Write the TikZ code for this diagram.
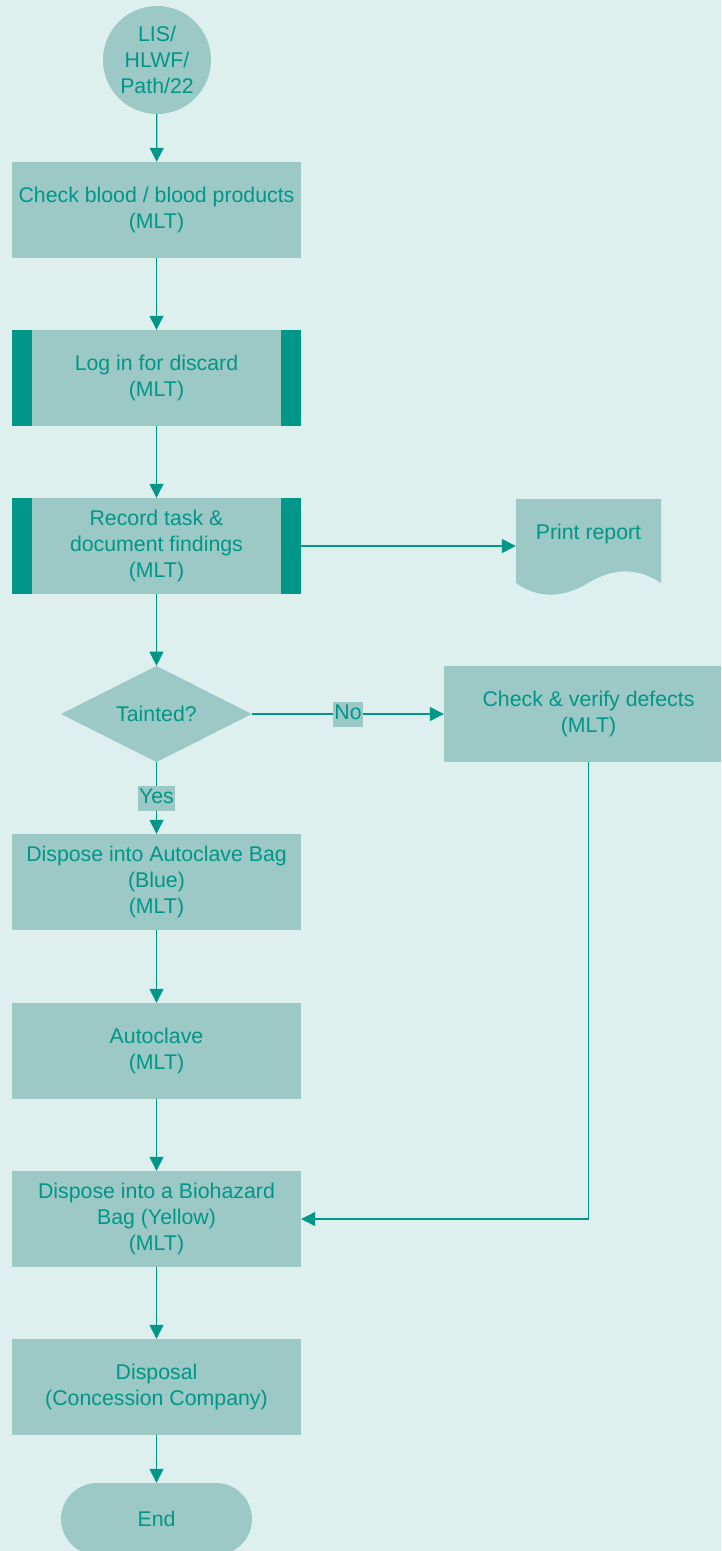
\documentclass[tikz,border=0pt]{standalone}
\usepackage{fontspec}
\setmainfont{Liberation Sans}
\usetikzlibrary{arrows.meta,shapes.geometric,shapes.misc}
\definecolor{bgc}{RGB}{221,240,237}
\definecolor{nodefill}{RGB}{156,200,198}
\definecolor{tealc}{RGB}{0,150,136}
\tikzset{
  base/.style={fill=nodefill, draw=none, text=tealc, align=center, font=\fontsize{21.3pt}{26pt}\selectfont, inner sep=0pt},
  procbox/.style={base, rectangle, minimum width=289pt, minimum height=96pt},
  conn/.style={draw=tealc, line width=1.2pt, -{Triangle[length=14pt,width=14pt]}},
  lbl/.style={fill=nodefill, text=tealc, font=\fontsize{21.3pt}{26pt}\selectfont, inner xsep=1pt, inner ysep=3pt, text height=15pt, text depth=4pt},
  bar/.style={fill=tealc}
}
\begin{document}
\begin{tikzpicture}[x=1pt,y=-1pt]
\useasboundingbox (0,0) rectangle (721,1551);
\fill[bgc] (0,0) rectangle (721,1551);
\clip (0,0) rectangle (721,1551);

\node[base, circle, minimum size=108pt] (start) at (157,60) {LIS/\\HLWF/\\Path/22};
\node[procbox] (b1) at (156.5,210) {Check blood / blood products\\(MLT)};
\node[procbox] (b2) at (156.5,378) {Log in for discard\\(MLT)};
\fill[bar] (b2.north west) rectangle ([xshift=20pt]b2.south west);
\fill[bar] (b2.north east) rectangle ([xshift=-20pt]b2.south east);
\node[procbox] (b3) at (156.5,546) {Record task \&\\document findings\\(MLT)};
\fill[bar] (b3.north west) rectangle ([xshift=20pt]b3.south west);
\fill[bar] (b3.north east) rectangle ([xshift=-20pt]b3.south east);

% print report (document shape)
\fill[nodefill] (516,499) -- (661,499) -- (661,583)
  .. controls (636,566) and (611,569) .. (588,583)
  .. controls (565,597) and (540,600) .. (516,583) -- cycle;
\node[inner sep=0pt, minimum width=145pt, minimum height=96pt] (pr) at (588.5,546) {};
\node[text=tealc, font=\fontsize{21.3pt}{26pt}\selectfont] (prt) at (588.5,534) {Print report};

\node[base, diamond, minimum width=191pt, minimum height=96pt] (d) at (156.5,714) {Tainted?};
\node[procbox] (chk) at (588.5,714) {Check \& verify defects\\(MLT)};
\node[procbox] (b4) at (156.5,882) {Dispose into Autoclave Bag\\(Blue)\\(MLT)};
\node[procbox] (b5) at (156.5,1051) {Autoclave\\(MLT)};
\node[procbox] (b6) at (156.5,1219) {Dispose into a Biohazard\\Bag (Yellow)\\(MLT)};
\node[procbox] (b7) at (156.5,1387) {Disposal\\(Concession Company)};
\node[base, rounded rectangle, minimum width=191pt, minimum height=72pt] (end) at (156.5,1519) {End};

\draw[conn] (start) -- (b1);
\draw[conn] (b1) -- (b2);
\draw[conn] (b2) -- (b3);
\draw[conn] (b3.east) -- (pr.west);
\draw[conn] (b3) -- (d);
\draw[conn] (d.east) -- node[lbl] (no) {No} (chk.west);
\draw[conn] (d.south) -- node[lbl] (yes) {Yes} (b4.north);
\draw[conn] (b4) -- (b5);
\draw[conn] (b5) -- (b6);
\draw[conn] (chk.south) |- (b6.east);
\draw[conn] (b6) -- (b7);
\draw[conn] (b7) -- (end);
\end{tikzpicture}
\end{document}
